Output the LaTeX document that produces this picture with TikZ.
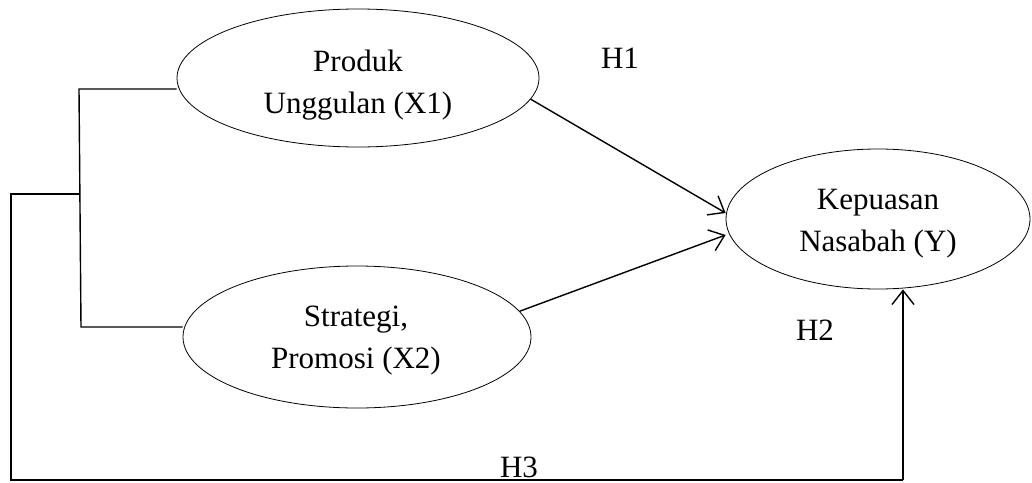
\documentclass[tikz,border=0pt]{standalone}
\usepackage{fontspec}
\setmainfont{Liberation Serif}
\usetikzlibrary{arrows.meta,shapes.geometric}
\tikzset{
  ell/.style={draw, line width=0.8pt, ellipse},
  txt/.style={align=center, font=\fontsize{31}{42}\selectfont, inner sep=0pt},
  hlab/.style={font=\fontsize{31}{42}\selectfont, inner sep=0pt},
  conn/.style={line width=1.4pt},
  arr/.style={conn, -{Straight Barb[length=14pt,width=22pt,line width=1.4pt]}}
}
\begin{document}
\begin{tikzpicture}[x=1pt,y=-1pt]
\useasboundingbox (0,0) rectangle (1032,482);
% ellipses
\node[ell, minimum width=362pt, minimum height=138pt] (X1) at (358,78) {};
\node[ell, minimum width=348pt, minimum height=142pt] (X2) at (357,337) {};
\node[ell, minimum width=304pt, minimum height=140pt] (Y) at (878,219) {};
% texts
\node[txt] (X1t) at (358,85.5) {Produk\\Unggulan (X1)};
\node[txt] (X2t) at (356,341) {Strategi,\\Promosi (X2)};
\node[txt] (Yt) at (878,223.5) {Kepuasan\\Nasabah (Y)};
% labels
\node[hlab] (H1) at (620,58) {H1};
\node[hlab] (H2) at (815,330) {H2};
\node[hlab] (H3) at (519,467) {H3};
% bracket
\coordinate (b1) at (79,89);
\coordinate (b2) at (81,327);
\coordinate (bm) at (80,194);
\coordinate (l1) at (11,194);
\coordinate (l2) at (11,480);
\coordinate (l3) at (903,480);
\draw[conn] ([yshift=-11pt]X1.west) -- (b1) -- (b2) -- ([yshift=10pt]X2.west);
\draw[conn] (bm) -- (l1) -- (l2) -- (l3);
\draw[arr] (l3) -- (Y.south -| l3);
% arrows
\draw[arr] (X1.-7) -- ([yshift=6pt]Y.west);
\draw[arr] (X2.9) -- ([yshift=-16pt]Y.west);
\end{tikzpicture}
\end{document}
